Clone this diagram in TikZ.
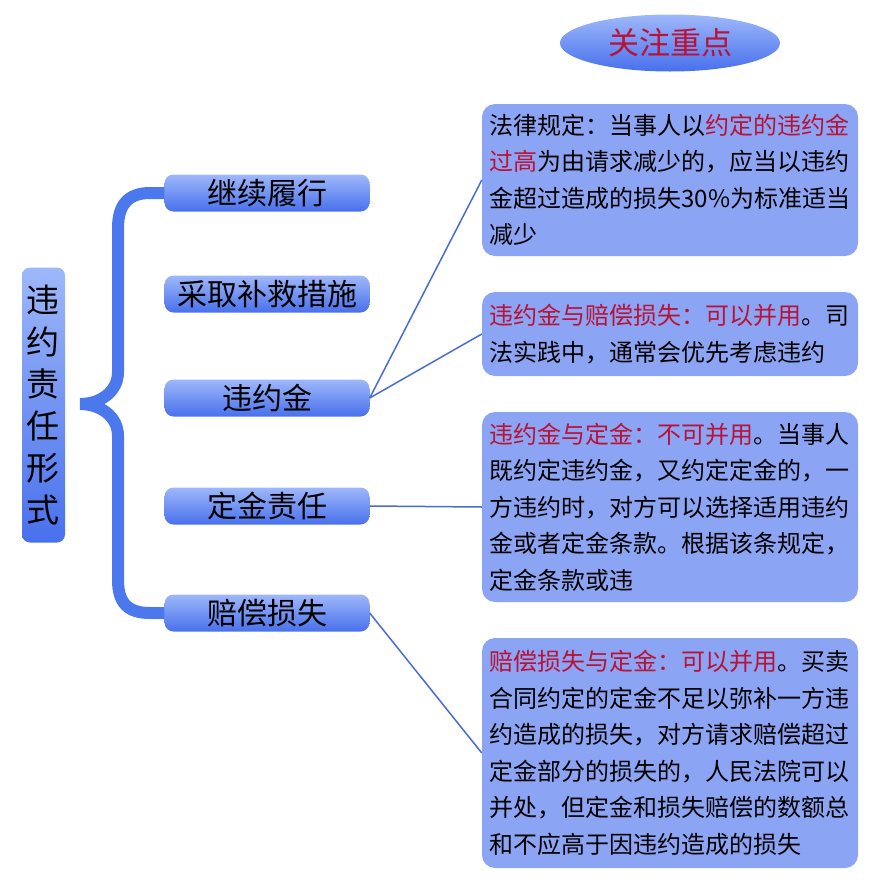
\documentclass[tikz,border=0pt]{standalone}
\usepackage{fontspec}
\setmainfont{Noto Sans CJK SC}
\usetikzlibrary{shapes.geometric}
\definecolor{formtop}{RGB}{158,184,250}
\definecolor{formbot}{RGB}{72,112,236}
\definecolor{notefill}{RGB}{140,164,244}
\definecolor{bracecol}{RGB}{76,120,238}
\definecolor{linkcol}{RGB}{72,108,212}
\definecolor{notered}{RGB}{186,18,52}
\newcommand{\hl}[1]{\textcolor{notered}{#1}}
\tikzset{
  form/.style={rounded corners=9pt, top color=formtop, bottom color=formbot,
    minimum width=205pt, minimum height=37pt, inner sep=0pt,
    font=\fontsize{30}{30}\selectfont},
  note/.style={rounded corners=13pt, fill=notefill, text width=361pt,
    inner xsep=7.5pt, inner ysep=8pt, align=left, font=\fontsize{24}{36.5}\selectfont},
  link/.style={draw=linkcol, line width=1.5pt},
  brace/.style={draw=bracecol, line width=12pt, line join=miter}
}
\begin{document}
\begin{tikzpicture}[x=1pt,y=-1pt]
            \useasboundingbox (0,0) rectangle (886,892);
            \node[ellipse,top color=formtop,bottom color=formbot,minimum width=220pt,minimum height=57pt,inner sep=0pt,text=notered,font=\fontsize{31}{31}\selectfont] (focus) at (670,43) {关注重点};
            \node[form,minimum width=43pt,minimum height=275pt,rounded corners=8pt,align=center,font=\fontsize{33}{42}\selectfont] (wyzr) at (43.5,405) {违\\约\\责\\任\\形\\式};

            \node[form] (jxlx) at (267,193) {继续履行};
            \node[form] (cqbj) at (267,294) {采取补救措施};
            \node[form] (wyj) at (267,398) {违约金};
            \node[form] (djzr) at (267,506) {定金责任};
            \node[form] (pcss) at (267,613) {赔偿损失};

            \node[note,minimum height=152pt] (note1) at (670,180) {法律规定：当事人以\hl{约定的违约金}\\\hl{过高}为由请求减少的，应当以违约\\金超过造成的损失30\%为标准适当\\减少};
            \node[note,minimum height=84pt] (note2) at (670,334) {\hl{违约金与赔偿损失：可以并用}。司\\法实践中，通常会优先考虑违约};
            \node[note,minimum height=190pt] (note3) at (670,507) {\hl{违约金与定金：不可并用}。当事人\\既约定违约金，又约定定金的，一\\方违约时，对方可以选择适用违约\\金或者定金条款。根据该条规定，\\定金条款或违};
            \node[note,minimum height=230pt] (note4) at (670,753) {\hl{赔偿损失与定金：可以并用}。买卖\\合同约定的定金不足以弥补一方违\\约造成的损失，对方请求赔偿超过\\定金部分的损失的，人民法院可以\\并处，但定金和损失赔偿的数额总\\和不应高于因违约造成的损失};

            \coordinate (tip) at (80,404);
            \draw[brace] (jxlx.west) -- (150,193) .. controls (128,193) and (118,205) .. (118,228)
                   -- (118,372) .. controls (118,392) and (100,404) .. (tip)
                   .. controls (100,404) and (118,416) .. (118,436)
                   -- (118,580) .. controls (118,603) and (128,613) .. (150,613) -- (pcss.west);

            \draw[link] (wyj.east) -- (note1.west)
                   (wyj.east) -- (note2.west)
                   (djzr.east) -- (note3.west)
                   (pcss.east) -- (note4.west);
\end{tikzpicture}
\end{document}
